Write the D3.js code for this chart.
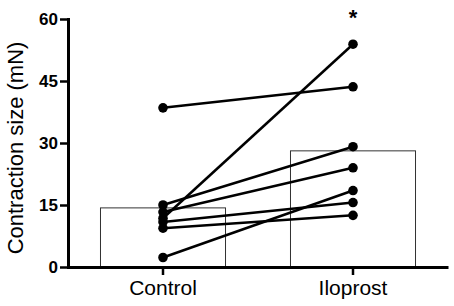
<!DOCTYPE html>
<html>
<head>
<meta charset="utf-8">
<script src="https://cdn.jsdelivr.net/npm/d3@7"></script>
<style>
    body { margin: 0; background: #fff; }
    svg { display: block; font-family: "Liberation Sans", Arial, Helvetica, sans-serif; }
</style>
</head>
<body>
<div id="chart"></div>
<script>
// groups on the x axis
let groups = ["Control", "Iloprost"];
// bar heights (group means)
let barMeans = [14.3, 28.1];
// paired measurements, one entry per preparation
let controlVals = [38.5, 15.0, 13.3, 11.8, 10.9, 9.4, 2.3];
let iloprostVals = [43.6, 29.1, 24.0, 53.9, 15.6, 12.5, 18.5];
let yTicks = [0, 15, 30, 45, 60];
let yLabel = "Contraction size (mN)";
let sigMark = "*";

let width = 454,
    height = 306;

let svg = d3.select("#chart").append("svg")
    .attr("width", width)
    .attr("height", height);

// scales
let x = d3.scaleBand()
    .domain(groups)
    .range([68, 448])
    .paddingInner(0.342)
    .paddingOuter(0.171);

let y = d3.scaleLinear()
    .domain([0, 60])
    .range([267, 19]);

// bars
svg.selectAll("rect.bar")
    .data(groups)
    .join("rect")
    .attr("class", "bar")
    .attr("x", d => x(d))
    .attr("y", (d, i) => y(barMeans[i]))
    .attr("width", x.bandwidth())
    .attr("height", (d, i) => y(0) - y(barMeans[i]))
    .attr("fill", "#fff")
    .attr("stroke", "#333")
    .attr("stroke-width", 1);

// paired lines
let cx = x("Control") + x.bandwidth() / 2;
let ix = x("Iloprost") + x.bandwidth() / 2;
let pairs = controlVals.map((c, i) => [c, iloprostVals[i]]);

svg.selectAll("line.pair")
    .data(pairs)
    .join("line")
    .attr("class", "pair")
    .attr("x1", cx)
    .attr("y1", d => y(d[0]))
    .attr("x2", ix)
    .attr("y2", d => y(d[1]))
    .attr("stroke", "#000")
    .attr("stroke-width", 2.5);

svg.selectAll("circle.ctl")
    .data(controlVals)
    .join("circle")
    .attr("class", "ctl")
    .attr("cx", cx)
    .attr("cy", d => y(d))
    .attr("r", 4.8)
    .attr("fill", "#000");

svg.selectAll("circle.ilo")
    .data(iloprostVals)
    .join("circle")
    .attr("class", "ilo")
    .attr("cx", ix)
    .attr("cy", d => y(d))
    .attr("r", 4.8)
    .attr("fill", "#000");

// y axis
let yAxis = svg.append("g")
    .attr("transform", "translate(68,0)")
    .call(d3.axisLeft(y).tickValues(yTicks).tickSize(8).tickSizeOuter(0).tickPadding(2));

yAxis.select(".domain").attr("stroke-width", 3).attr("stroke-linecap", "square");
yAxis.selectAll(".tick line").attr("stroke-width", 2.5);
yAxis.selectAll(".tick text")
    .attr("font-size", 17)
    .attr("font-weight", "bold")
    .attr("fill", "#000")
    .attr("font-family", "'Liberation Sans', Arial, sans-serif");

// x axis
let xAxis = svg.append("g")
    .attr("transform", "translate(0,267)")
    .call(d3.axisBottom(x).tickSize(8).tickSizeOuter(0).tickPadding(5));

xAxis.select(".domain").attr("stroke-width", 3);
xAxis.selectAll(".tick line").attr("stroke-width", 2.5);
xAxis.selectAll(".tick text")
    .attr("font-size", 21)
    .attr("fill", "#000")
    .attr("font-family", "'Liberation Sans', Arial, sans-serif");

// y axis title
svg.append("text")
    .attr("transform", "translate(23,148) rotate(-90)")
    .attr("text-anchor", "middle")
    .attr("font-size", 22)
    .attr("fill", "#000")
    .text(yLabel);

// significance mark
svg.append("text")
    .attr("x", ix)
    .attr("y", 25)
    .attr("text-anchor", "middle")
    .attr("font-size", 22)
    .attr("font-weight", "bold")
    .attr("fill", "#000")
    .text(sigMark);
</script>
</body>
</html>
